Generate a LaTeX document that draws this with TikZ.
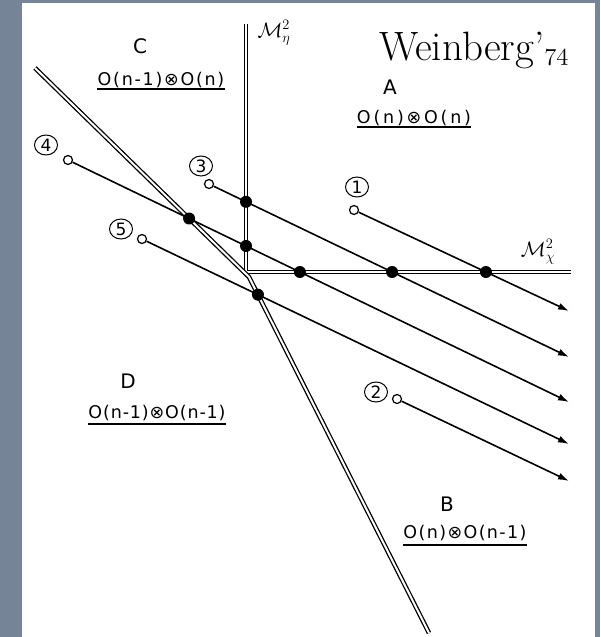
\documentclass[tikz,border=0pt]{standalone}
\usepackage{fontspec}
\usetikzlibrary{arrows.meta,shapes.geometric}
\newfontfamily\lettering{DejaVu Sans}
\definecolor{slate}{RGB}{118,132,152}

\begin{document}
\begin{tikzpicture}[x=1pt, y=-1pt, >={Latex[length=11pt,width=7pt]},
  axis/.style={double, double distance=2pt, line width=1.3pt},
  traj/.style={->, line width=1.6pt},
  dot/.style={circle, fill, inner sep=0pt, minimum size=12pt},
  start/.style={circle, draw, fill=white, line width=1.2pt, inner sep=0pt, minimum size=9pt},
  num/.style={ellipse, draw, line width=1pt, inner sep=0pt, minimum width=23pt,
              minimum height=20pt, font=\fontsize{17}{17}\lettering},
  region/.style={anchor=base, inner sep=0pt, font=\fontsize{20}{20}\lettering},
  prod/.style={anchor=base, inner sep=0pt,
               font=\fontsize{17.5}{19}\lettering\addfontfeatures{LetterSpace=#1}},
  mass/.style={inner sep=0pt, font=\fontsize{20.74}{24}\selectfont}]
\fill[slate] (0,0) rectangle (600,637);
\fill[white] (22,3) rectangle (595,637);
\useasboundingbox (0,0) rectangle (600,637);

% phase boundaries
\coordinate (vtop) at (246,24);
\coordinate (corner) at (246,272);
\coordinate (xend) at (571,272);
\coordinate (dtop) at (35,68);
\coordinate (bend) at (249,277);
\coordinate (dbot) at (429,633);
\draw[axis] (vtop) -- (corner) -- (xend);
\draw[axis] (dtop) -- (bend) -- (dbot);

% trajectories
\node[start] (s1) at (354,210) {};
\node[start] (s2) at (397,399) {};
\node[start] (s3) at (209,184) {};
\node[start] (s4) at (68,160) {};
\node[start] (s5) at (142,239) {};
\coordinate (e1) at (569,311);
\coordinate (e2) at (569,481);
\coordinate (e3) at (569,357);
\coordinate (e4) at (569,402);
\coordinate (e5) at (569,444);
\draw[traj] (s1) -- (e1);
\draw[traj] (s2) -- (e2);
\draw[traj] (s3) -- (e3);
\draw[traj] (s4) -- (e4);
\draw[traj] (s5) -- (e5);

% transitions
\node[dot] (d4diag) at (intersection of s4--e4 and dtop--bend) {};
\node[dot] (d3eta) at (intersection of s3--e3 and vtop--corner) {};
\node[dot] (d4eta) at (intersection of s4--e4 and vtop--corner) {};
\node[dot] (d4chi) at (intersection of s4--e4 and corner--xend) {};
\node[dot] (d3chi) at (intersection of s3--e3 and corner--xend) {};
\node[dot] (d1chi) at (intersection of s1--e1 and corner--xend) {};
\node[dot] (d5diag) at (intersection of s5--e5 and bend--dbot) {};

\node[num] (n1) at (357,187) {1};
\node[num] (n2) at (376,392) {2};
\node[num] (n3) at (201,166) {3};
\node[num] (n4) at (46,145) {4};
\node[num] (n5) at (121,229) {5};

% phases
\node[region] (C) at (140,53) {C};
\node[region] (A) at (390,94) {A};
\node[region] (D) at (128,388) {D};
\node[region] (B) at (447,511) {B};
\node[prod=10] (cprod) at (161,85) {O(n-1)⊗O(n)};
\node[prod=16] (aprod) at (414,123) {O(n)⊗O(n)};
\node[prod=5] (dprod) at (157,418) {O(n-1)⊗O(n-1)};
\node[prod=8] (bprod) at (465,538) {O(n)⊗O(n-1)};
\draw[line width=1.5pt] ([yshift=-4pt]cprod.base west) -- ([yshift=-4pt]cprod.base east);
\draw[line width=1.5pt] ([yshift=-4pt]aprod.base west) -- ([yshift=-4pt]aprod.base east);
\draw[line width=1.5pt] ([yshift=-6pt]dprod.base west) -- ([yshift=-6pt]dprod.base east);
\draw[line width=1.5pt] ([yshift=-7pt]bprod.base west) -- ([yshift=-7pt]bprod.base east);

\node[mass] (meta) at (274,33) {$\mathcal{M}^2_\eta$};
\node[mass] (mchi) at (538,252) {$\mathcal{M}^2_\chi$};
\node[anchor=base, inner sep=0pt, font=\fontsize{41}{45}\selectfont] (cite) at (474,60)
  {Weinberg'{\usefont{OML}{lmm}{m}{it}74}};
\end{tikzpicture}
\end{document}
